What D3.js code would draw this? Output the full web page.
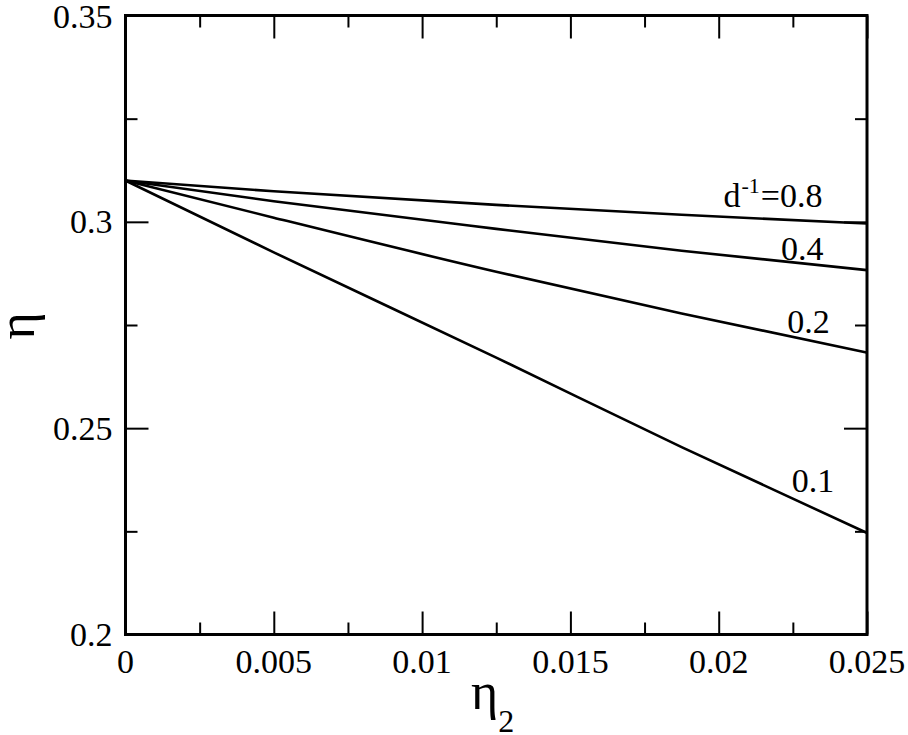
<!DOCTYPE html>
<html>
<head>
<meta charset="utf-8">
<script src="https://cdn.jsdelivr.net/npm/d3@7"></script>
<style>
  html, body { margin: 0; padding: 0; background: #fff; }
  svg { display: block; }
</style>
</head>
<body>
<svg id="chart" width="908" height="735"></svg>
<script>
// ---- data ----
const eta2 = [0, 0.005, 0.0125, 0.01875, 0.025];
const inverseD = [0.8, 0.4, 0.2, 0.1];
const etaD08 = [0.3100, 0.3074, 0.3041, 0.3017, 0.2996];
const etaD04 = [0.3100, 0.3050, 0.2983, 0.2930, 0.2883];
const etaD02 = [0.3100, 0.3010, 0.2879, 0.2778, 0.2683];
const etaD01 = [0.3100, 0.2926, 0.2671, 0.2454, 0.2246];
const curveLabels = ["=0.8", "0.4", "0.2", "0.1"];
// annotation anchors (data units: eta2 at text end, eta at baseline)
const labelEta2 = [0.0235, 0.02353, 0.02374, 0.0239];
const labelEta = [0.3035, 0.29075, 0.27306, 0.23453];

const xMajorTicks = [0, 0.005, 0.01, 0.015, 0.02, 0.025];
const xTickLabels = ["0", "0.005", "0.01", "0.015", "0.02", "0.025"];
const xMinorTicks = [0.0025, 0.0075, 0.0125, 0.0175, 0.0225];
const yMajorTicks = [0.2, 0.25, 0.3, 0.35];
const yTickLabels = ["0.2", "0.25", "0.3", "0.35"];
const yMinorTicks = [0.225, 0.275, 0.325];

const series = [etaD08, etaD04, etaD02, etaD01];

// ---- layout ----
const FONT = '"Liberation Serif"';
const pLeft = 125.5, pTop = 15.5, pRight = 867, pBottom = 634.5;
const svg = d3.select("#chart");

const x = d3.scaleLinear().domain([0, 0.025]).range([pLeft, pRight]);
const y = d3.scaleLinear().domain([0.2, 0.35]).range([pBottom, pTop]);

const majorLen = 23, minorLen = 12;

// data lines
const line = d3.line()
  .x((d, i) => x(eta2[i]))
  .y(d => y(d))
  .curve(d3.curveMonotoneX);

svg.append("g").selectAll("path")
  .data(series)
  .join("path")
  .attr("d", d => line(d))
  .attr("fill", "none")
  .attr("stroke", "#000")
  .attr("stroke-width", 2.6)
  .attr("stroke-linejoin", "round");

// axes using d3 axis generators (ticks inward)
function styleAxis(g) {
  g.select(".domain").remove();
  g.selectAll(".tick line").attr("stroke", "#000").attr("stroke-width", 2);
  g.selectAll("text").remove();
}

// bottom
svg.append("g").attr("transform", `translate(0,${pBottom})`)
  .call(d3.axisBottom(x).tickValues(xMajorTicks).tickSizeInner(-majorLen).tickSizeOuter(0))
  .call(styleAxis);
svg.append("g").attr("transform", `translate(0,${pBottom})`)
  .call(d3.axisBottom(x).tickValues(xMinorTicks).tickSizeInner(-minorLen).tickSizeOuter(0))
  .call(styleAxis);
// top
svg.append("g").attr("transform", `translate(0,${pTop})`)
  .call(d3.axisTop(x).tickValues(xMajorTicks).tickSizeInner(-majorLen).tickSizeOuter(0))
  .call(styleAxis);
svg.append("g").attr("transform", `translate(0,${pTop})`)
  .call(d3.axisTop(x).tickValues(xMinorTicks).tickSizeInner(-minorLen).tickSizeOuter(0))
  .call(styleAxis);
// left
svg.append("g").attr("transform", `translate(${pLeft},0)`)
  .call(d3.axisLeft(y).tickValues(yMajorTicks).tickSizeInner(-majorLen).tickSizeOuter(0))
  .call(styleAxis);
svg.append("g").attr("transform", `translate(${pLeft},0)`)
  .call(d3.axisLeft(y).tickValues(yMinorTicks).tickSizeInner(-minorLen).tickSizeOuter(0))
  .call(styleAxis);
// right
svg.append("g").attr("transform", `translate(${pRight},0)`)
  .call(d3.axisRight(y).tickValues(yMajorTicks).tickSizeInner(-majorLen).tickSizeOuter(0))
  .call(styleAxis);
svg.append("g").attr("transform", `translate(${pRight},0)`)
  .call(d3.axisRight(y).tickValues(yMinorTicks).tickSizeInner(-minorLen).tickSizeOuter(0))
  .call(styleAxis);

// frame
svg.append("rect")
  .attr("x", pLeft).attr("y", pTop)
  .attr("width", pRight - pLeft).attr("height", pBottom - pTop)
  .attr("fill", "none").attr("stroke", "#000").attr("stroke-width", 3);

// tick labels
svg.append("g").selectAll("text")
  .data(xMajorTicks)
  .join("text")
  .attr("x", d => x(d))
  .attr("y", 673)
  .attr("text-anchor", "middle")
  .style("font-family", FONT)
  .attr("font-size", 34)
  .text((d, i) => xTickLabels[i]);

svg.append("g").selectAll("text")
  .data(yMajorTicks)
  .join("text")
  .attr("x", pLeft - 13)
  .attr("y", d => Math.max(y(d) + 11.5, 28))
  .attr("text-anchor", "end")
  .style("font-family", FONT)
  .attr("font-size", 34)
  .text((d, i) => yTickLabels[i]);

// axis titles
const xt = svg.append("text")
  .attr("x", 471)
  .attr("y", 709)
  .style("font-family", FONT)
  .attr("font-size", 52);
xt.append("tspan").text("η");
xt.append("tspan").attr("font-size", 32).attr("dy", 23).text("2");

svg.append("text")
  .attr("transform", "translate(34,326) rotate(-90)")
  .attr("text-anchor", "middle")
  .style("font-family", FONT)
  .attr("font-size", 52)
  .text("η");

// curve labels
const labels = svg.append("g");
inverseD.forEach((v, i) => {
  const t = labels.append("text")
    .attr("x", x(labelEta2[i]))
    .attr("y", y(labelEta[i]))
    .attr("text-anchor", "end")
    .style("font-family", FONT)
    .attr("font-size", 34);
  if (i === 0) {
    t.append("tspan").text("d");
    t.append("tspan").attr("font-size", 22).attr("dy", -14).attr("dx", 1).text("-1");
    t.append("tspan").attr("dy", 14).attr("dx", 1).text(curveLabels[i]);
  } else {
    t.text(curveLabels[i]);
  }
});
</script>
</body>
</html>
